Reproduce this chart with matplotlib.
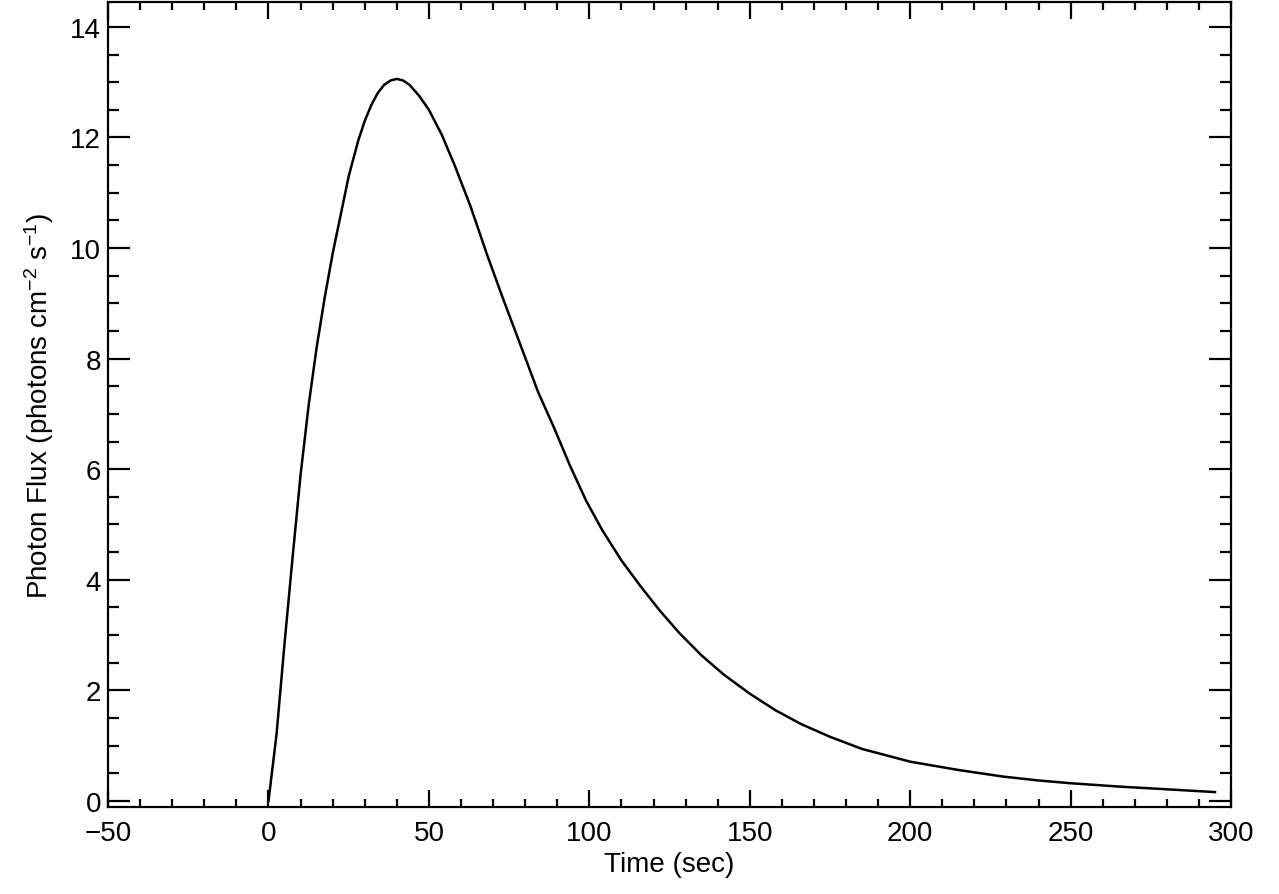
import numpy as np
import matplotlib
matplotlib.use('Agg')
import matplotlib.pyplot as plt
from matplotlib.ticker import MultipleLocator

plt.rcParams['font.family'] = ['Liberation Sans', 'DejaVu Sans']
plt.rcParams['mathtext.fontset'] = 'custom'
plt.rcParams['mathtext.rm'] = 'Liberation Sans'
plt.rcParams['mathtext.it'] = 'Liberation Sans'

# light curve
time = [0, 2.5, 5, 7.5, 10, 12.5, 15, 17.5, 20, 22.5, 25, 28, 30, 32, 34, 36,
        38, 40, 42, 44, 47, 50, 54, 58, 63, 68, 73, 78, 84, 89, 94, 99, 104,
        110, 116, 122, 128, 135, 142, 150, 158, 166, 175, 185, 200, 215, 229,
        240, 250, 265, 280, 295]
flux = [0, 1.2, 2.85, 4.4, 5.9, 7.15, 8.2, 9.1, 9.9, 10.6, 11.3, 11.95, 12.3,
        12.58, 12.8, 12.95, 13.03, 13.06, 13.03, 12.95, 12.75, 12.5, 12.05,
        11.5, 10.75, 9.9, 9.1, 8.33, 7.4, 6.75, 6.06, 5.43, 4.9, 4.35, 3.88,
        3.44, 3.04, 2.63, 2.28, 1.94, 1.64, 1.39, 1.16, 0.94, 0.71, 0.56, 0.44,
        0.37, 0.32, 0.26, 0.21, 0.16]

fig = plt.figure(figsize=(12.79, 8.95), dpi=100)
ax = fig.add_axes([0.0845, 0.0972, 0.878, 0.8994])
ax.plot(time, flux, color='black', lw=1.8)

ax.set_xlim(-50, 300)
ax.set_ylim(-0.11, 14.45)
ax.xaxis.set_major_locator(MultipleLocator(50))
ax.xaxis.set_minor_locator(MultipleLocator(10))
ax.yaxis.set_major_locator(MultipleLocator(2))
ax.yaxis.set_minor_locator(MultipleLocator(0.5))
ax.tick_params(which='both', direction='in', top=True, right=True,
               labelsize=20, width=1.6, pad=5)
ax.tick_params(axis='x', which='both', pad=9)
ax.tick_params(axis='x', which='major', length=12)
ax.tick_params(axis='x', which='minor', length=6)
ax.tick_params(axis='y', which='major', length=16)
ax.tick_params(axis='y', which='minor', length=8)
for s in ax.spines.values():
    s.set_linewidth(1.6)

ax.set_xlabel('Time (sec)', fontsize=20, labelpad=4)
ax.set_ylabel('Photon Flux (photons cm$^{-2}$ s$^{-1}$)', fontsize=20, labelpad=10)

fig.savefig('out.png', dpi=100)
